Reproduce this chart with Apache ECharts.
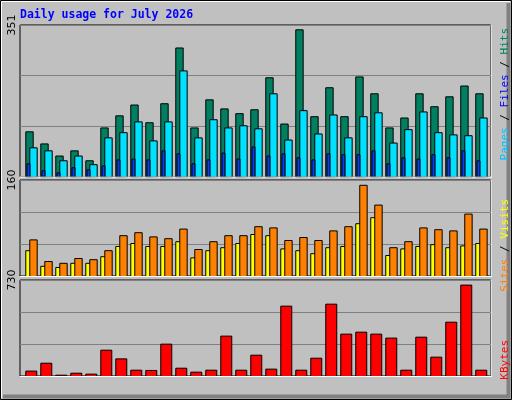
<!DOCTYPE html>
<html><head><meta charset="utf-8">
<script src="https://cdn.jsdelivr.net/npm/echarts@6/dist/echarts.min.js"></script>
<style>html,body{margin:0;padding:0;background:#c0c0c0}#c{width:512px;height:400px}</style>
</head><body><div id="c"></div>
<script>
const days = Array.from({length:31},(_,i)=>i+1);
const weekendDays = [4,5,11,12,18,19,25,26];
const hits  = [105,77,49,61,38,114,142,167,126,170,299,114,179,158,147,156,230,123,341,140,207,140,232,193,114,137,193,163,186,211,193];
const files = [68,61,38,49,29,91,103,128,84,128,246,91,133,114,119,112,193,86,154,100,144,91,140,149,79,110,151,103,98,96,137];
const pages = [31,15,10,22,17,26,40,42,40,61,54,31,40,56,42,70,49,54,45,40,54,52,52,61,31,45,42,52,45,61,38];
const visits= [61,25,22,30,28,43,68,73,66,63,79,45,58,68,68,83,81,60,65,60,76,83,152,119,48,58,81,78,76,104,79];
const sites = [43,17,15,22,22,33,50,55,50,50,58,31,43,48,55,70,68,46,43,38,48,50,88,98,35,46,50,53,48,51,55];
const kbytes= [41,101,10,25,18,200,134,48,46,246,63,33,48,307,48,162,56,535,48,139,550,322,337,322,292,48,299,147,413,695,48];
const axisMax = [351,160,730];

const chart = echarts.init(document.getElementById('c'));
function bars(vals, color, x0, x1, gi, z){
  return {type:'custom', xAxisIndex:gi, yAxisIndex:gi, z:z,
    data: days.map((d,i)=>[d, vals[i]]),
    renderItem:(params, api)=>{
      const top = api.coord([api.value(0), api.value(1)]);
      const base = api.coord([api.value(0), 0]);
      return {type:'rect', shape:{x:top[0]+x0+0.5, y:top[1]+0.5, width:x1-x0, height:base[1]-top[1]},
        style:{fill:color, stroke:'#000', lineWidth:1}};
    }};
}
const grids = [[25,151.7],[180,96],[280,96]];
const xAxes = grids.map((g,i)=>({type:'value', gridIndex:i, min:0.267, max:31.65, interval:1,
  axisLine:{show:false}, axisTick:{show:false}, splitLine:{show:false},
  axisLabel:{show:i===2, margin:6, fontFamily:'DejaVu Sans', fontSize:12, color:'#000',
    formatter:v=>Number.isInteger(v)&&v>=1&&v<=31?(weekendDays.includes(v)?'{g|'+v+'}':''+v):'',
    rich:{g:{color:'#008060', fontFamily:'DejaVu Sans', fontSize:12}}}}));
const yAxes = grids.map((g,i)=>({type:'value', gridIndex:i, min:0, max:axisMax[i], interval:axisMax[i]/3,
  axisLine:{show:false}, axisTick:{show:false},
  splitLine:{show:true, lineStyle:{color:'#808080', width:1}},
  axisLabel:{rotate:90, margin:2, fontFamily:'DejaVu Sans', fontSize:11, color:'#000',
    formatter:v=>Math.abs(v-axisMax[i])<0.01?''+axisMax[i]:''}}));
const W=470.7;
const g = [];
grids.forEach(([t,h])=>{
  g.push({type:'line', shape:{x1:20+W+0.5,y1:t,x2:20+W+0.5,y2:t+h+1}, style:{stroke:'#fff',lineWidth:1}, z:100});
  g.push({type:'line', shape:{x1:20,y1:t+h+0.5,x2:20+W+1,y2:t+h+0.5}, style:{stroke:'#fff',lineWidth:1}, z:100});
});
const mono = 'DejaVu Sans Mono';
function vtext(y, rich, str){
  return {type:'text', x:505, y:y, rotation:Math.PI/2, z:100,
    style:{text:str, rich:rich, font:'11px '+mono, align:'right', verticalAlign:'middle'}};
}
g.push(vtext(28, {p:{fill:'#00c0ff',font:'11px '+mono},f:{fill:'#0000ff',font:'11px '+mono},h:{fill:'#008060',font:'11px '+mono},s:{fill:'#000',font:'11px '+mono}},
  '{p|Pages}{s| / }{f|Files}{s| / }{h|Hits}'));
g.push(vtext(199, {a:{fill:'#ff8000',font:'11px '+mono},b:{fill:'#ffff00',font:'11px '+mono},s:{fill:'#000',font:'11px '+mono}},
  '{a|Sites}{s| / }{b|Visits}'));
g.push(vtext(340, {k:{fill:'#ff0000',font:'11px '+mono}}, '{k|KBytes}'));
g.push({type:'text', x:20, y:15, z:100, style:{text:'Daily usage for July 2026', fill:'#0000ff', font:'bold 11.5px '+mono, verticalAlign:'middle'}});
// outer frame
g.push({type:'rect', shape:{x:0.5,y:0.5,width:511,height:399}, style:{fill:'none',stroke:'#000',lineWidth:1}, z:99});
g.push({type:'polyline', shape:{points:[[1.5,398],[1.5,1.5],[510,1.5]]}, style:{stroke:'#fff',lineWidth:1,fill:'none'}, z:99});
g.push({type:'polyline', shape:{points:[[3,396.5],[508.5,396.5],[508.5,3]]}, style:{stroke:'#808080',lineWidth:4,fill:'none'}, z:99});

chart.setOption({
  backgroundColor:'#c0c0c0', animation:false,
  grid: grids.map(([t,h])=>({left:20, top:t, width:W, height:h, show:true, backgroundColor:'transparent', borderColor:'#000', borderWidth:1})),
  xAxis:xAxes, yAxis:yAxes,
  series:[
    bars(hits,'#008060',-5.7,1.7,0,2),
    bars(files,'#00e0ff',-1.7,5.7,0,3),
    bars(pages,'#0040ff',-4.5,-1.5,0,4),
    bars(sites,'#ffff00',-5.7,1.7,1,2),
    bars(visits,'#ff8000',-1.7,5.7,1,3),
    bars(kbytes,'#ff0000',-5.7,5.3,2,2)
  ],
  graphic:g
});
</script></body></html>
